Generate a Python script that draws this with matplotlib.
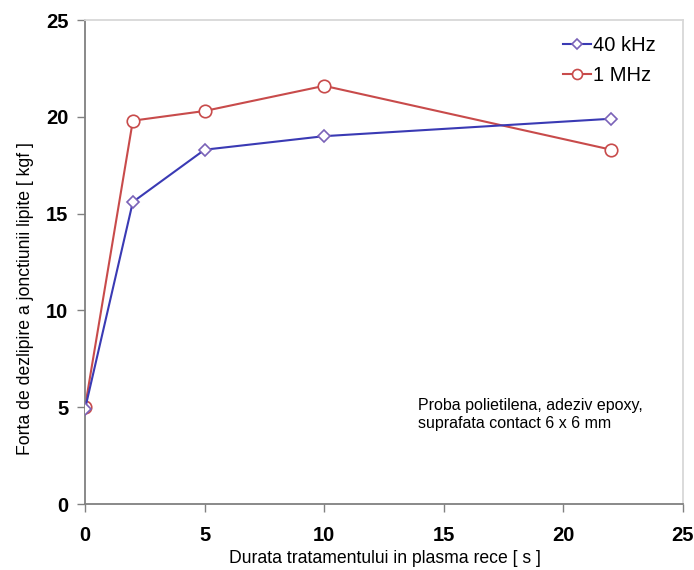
import matplotlib
matplotlib.use("Agg")
import matplotlib.pyplot as plt

plt.rcParams["font.family"] = ["Liberation Sans", "DejaVu Sans"]

durata = [0, 2, 5, 10, 22]
forta_40khz = [4.9, 15.6, 18.3, 19.0, 19.9]
forta_1mhz = [5.0, 19.8, 20.3, 21.6, 18.3]

xticks = [0, 5, 10, 15, 20, 25]
yticks = [0, 5, 10, 15, 20, 25]

fig = plt.figure(figsize=(6.94, 5.70), dpi=100)
ax = fig.add_axes([85 / 694, 66 / 570, 598 / 694, 484 / 570])

ax.plot(durata, forta_40khz, color="#3a3ab4", lw=1.5, marker="D", ms=6,
        mfc="white", mec="#7a62b8", mew=1.2, label="40 kHz", zorder=3)
ax.plot(durata, forta_1mhz, color="#c84b4b", lw=1.5, marker="o", ms=9,
        mfc="white", mec="#c84b4b", mew=1.2, label="1 MHz", zorder=2)

ax.set_xlim(0, 25)
ax.set_ylim(0, 25)
ax.set_xticks(xticks)
ax.set_yticks(yticks)
ax.tick_params(axis="both", direction="out", length=6, width=1, color="#808080",
               labelsize=14.5, pad=6)
for lab in ax.get_xticklabels() + ax.get_yticklabels():
    lab.set_fontweight("bold")
ax.tick_params(axis="x", pad=10)

for side in ["left", "bottom"]:
    ax.spines[side].set_color("#808080")
    ax.spines[side].set_linewidth(1.3)
for side in ["top", "right"]:
    ax.spines[side].set_color("#d8d8d8")
    ax.spines[side].set_linewidth(1.3)

ax.set_xlabel("Durata tratamentului in plasma rece [ s ]", fontsize=12.7)
ax.xaxis.set_label_coords(0.502, -0.095)
ax.set_ylabel("Forta de dezlipire a jonctiunii lipite [ kgf ]", fontsize=12.7)
ax.yaxis.set_label_coords(-0.086, 0.425)

ax.text(0.557, 0.22, "Proba polietilena, adeziv epoxy,\nsuprafata contact 6 x 6 mm",
        transform=ax.transAxes, fontsize=11.5, va="top", linespacing=1.25)

ax.legend(loc="upper right", bbox_to_anchor=(0.985, 1.005), frameon=False, fontsize=14.5,
          handlelength=1.4, handletextpad=0.1, labelspacing=0.55, markerscale=0.8)

fig.savefig("out.png", dpi=100)
